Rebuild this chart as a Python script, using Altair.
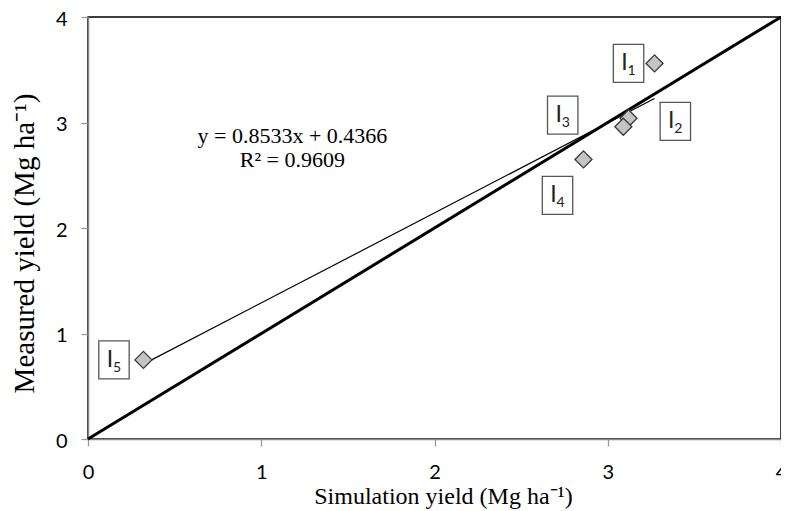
import altair as alt
import pandas as pd

# Data
sim = [3.27, 3.12, 3.09, 2.86, 0.32]
meas = [3.56, 3.04, 2.96, 2.65, 0.75]
names = ["I", "I", "I", "I", "I"]
subs = ["1", "2", "3", "4", "5"]
label_x = [3.12, 3.39, 2.74, 2.71, 0.15]
label_y = [3.56, 3.01, 3.07, 2.31, 0.75]
slope = 0.8533
intercept = 0.4366
eq_text = "y = 0.8533x + 0.4366\nR\u00b2 = 0.9609"
eq_x = [1.18]
eq_y = [2.87]
one_to_one = [0, 4]
ticks = [0, 1, 2, 3, 4]

pts = pd.DataFrame({"sim": sim, "meas": meas})
labs = pd.DataFrame({"lx": label_x, "ly": label_y, "name": names, "sub": subs})
diag = pd.DataFrame({"sim": one_to_one, "meas": one_to_one})
xmin, xmax = min(sim), max(sim)
trend = pd.DataFrame({"sim": [xmin, xmax],
                      "meas": [slope * xmin + intercept, slope * xmax + intercept]})
eq = pd.DataFrame({"ex": eq_x, "ey": eq_y, "t": [eq_text]})

xscale = alt.Scale(domain=[0, 4], nice=False, zero=True)
yscale = alt.Scale(domain=[0, 4], nice=False, zero=True)

xaxis = alt.Axis(values=ticks, title="Simulation yield (Mg ha\u207b\u00b9)", format="d",
                 grid=False, labelFlush=False, labelPadding=16,
                 titleFontSize=24, titleBaseline="alphabetic", titleY=64, titleX=355)
yaxis = alt.Axis(values=ticks, title="Measured yield (Mg ha\u207b\u00b9)", format="d",
                 grid=False, labelFlush=False, labelPadding=14, labelOffset=2,
                 titlePadding=16, titleFontSize=29, titleY=226)

X = alt.X("sim:Q", scale=xscale, axis=xaxis)
Y = alt.Y("meas:Q", scale=yscale, axis=yaxis)

diag_l = alt.Chart(diag).mark_line(color="black", strokeWidth=3).encode(x=X, y=Y)
trend_l = alt.Chart(trend).mark_line(color="black", strokeWidth=1.2).encode(x=X, y=Y)
points = alt.Chart(pts).mark_point(shape="diamond", size=290, filled=True,
                                   fill="#c4c4c4", stroke="#3a3a3a",
                                   strokeWidth=1.3, opacity=1).encode(x=X, y=Y)

box_shape = "M-0.8,-1L0.8,-1L0.8,1L-0.8,1Z"
LX = alt.X("lx:Q", scale=xscale)
LY = alt.Y("ly:Q", scale=yscale)
boxes = alt.Chart(labs).mark_point(shape=box_shape, size=1444, fill="white",
                                   stroke="#555555", strokeWidth=1.3,
                                   opacity=1, fillOpacity=1).encode(x=LX, y=LY)
main_t = alt.Chart(labs).mark_text(font="Lato", fontSize=23, dx=-4, dy=0,
                                   color="#222222", baseline="middle").encode(
    x=LX, y=LY, text="name:N")
sub_t = alt.Chart(labs).mark_text(font="Lato", fontSize=14, dx=3, dy=8,
                                  color="#222222", baseline="middle").encode(
    x=LX, y=LY, text="sub:N")

eq_t = alt.Chart(eq).mark_text(font="Liberation Serif", fontSize=22, lineHeight=24,
                               lineBreak="\n", color="black", align="center",
                               baseline="middle").encode(
    x=alt.X("ex:Q", scale=xscale), y=alt.Y("ey:Q", scale=yscale), text="t:N")

chart = alt.layer(diag_l, trend_l, points, boxes, main_t, sub_t, eq_t).properties(
    width=693, height=422,
    autosize=alt.AutoSizeParams(type="none"),
    padding={"left": 80, "top": 9, "right": 0, "bottom": 70},
).configure_view(stroke="black", strokeWidth=1.5).configure_axis(
    labelFont="Lato", labelFontSize=20, labelColor="black",
    tickColor="#999999", tickSize=7, tickWidth=1.3,
    domainColor="#8a8a8a", domainWidth=1.5,
    titleFont="Liberation Serif", titleFontWeight="normal",
    titleColor="black",
)

chart.save("out.html", embed_options={"renderer": "svg", "actions": False})
